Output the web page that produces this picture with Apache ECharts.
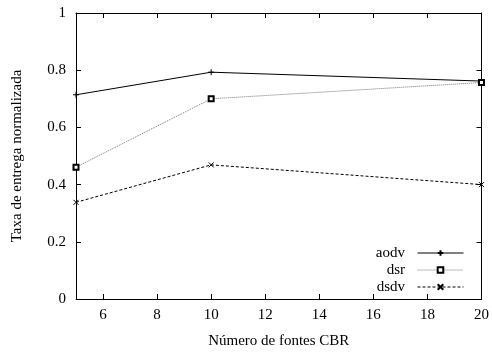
<!DOCTYPE html>
<html><head><meta charset="utf-8">
<script src="https://cdn.jsdelivr.net/npm/echarts@6/dist/echarts.min.js"></script>
<style>html,body{margin:0;padding:0;background:#fff}#c{width:492px;height:354px}</style>
</head><body><div id="c"></div>
<script>
const xValues = [5, 10, 20];
const aodv = [0.714, 0.793, 0.762];
const dsr = [0.461, 0.700, 0.757];
const dsdv = [0.338, 0.469, 0.400];
const xTicks = [6, 8, 10, 12, 14, 16, 18, 20];
const seriesNames = ['aodv', 'dsr', 'dsdv'];

const FONT = 'Liberation Serif';
const plusPath = 'path://M0,5L10,5M5,0L5,10';
const crossPath = 'path://M0,0L10,10M10,0L0,10';

function pairs(vals){ return xValues.map((x,i)=>[x, vals[i]]); }

const xBase = {
  type: 'value', min: 5, max: 20,
  axisLine: {show: true, onZero: false, lineStyle: {color: '#000', width: 1}},
  axisTick: {show: true, inside: true, length: 5, customValues: xTicks, lineStyle: {color: '#000'}},
  splitLine: {show: false}
};
const yBase = {
  type: 'value', min: 0, max: 1, interval: 0.2,
  axisLine: {show: true, onZero: false, lineStyle: {color: '#000', width: 1}},
  axisTick: {show: true, inside: true, length: 5, lineStyle: {color: '#000'}},
  splitLine: {show: false}
};

const chart = echarts.init(document.getElementById('c'), null, {renderer: 'canvas'});
chart.setOption({
  animation: false,
  backgroundColor: '#fff',
  grid: {left: 76, right: 9, top: 13, bottom: 54},
  xAxis: [
    Object.assign({}, xBase, {
      position: 'bottom',
      name: 'Número de fontes CBR', nameLocation: 'middle', nameGap: 35,
      nameTextStyle: {fontFamily: FONT, fontSize: 15, color: '#000'},
      axisLabel: {show: true, customValues: xTicks, fontFamily: FONT, fontSize: 15, color: '#000', margin: 9}
    }),
    Object.assign({}, xBase, {position: 'top', axisLabel: {show: false}})
  ],
  yAxis: [
    Object.assign({}, yBase, {
      position: 'left',
      name: 'Taxa de entrega normalizada', nameLocation: 'middle', nameGap: 51,
      nameTextStyle: {fontFamily: FONT, fontSize: 15, color: '#000'},
      axisLabel: {show: true, fontFamily: FONT, fontSize: 15, color: '#000', margin: 10}
    }),
    Object.assign({}, yBase, {position: 'right', axisLabel: {show: false}})
  ],
  legend: {
    orient: 'vertical', align: 'right', right: 23, bottom: 54.5,
    itemWidth: 46, itemHeight: 7, itemGap: 2,
    formatter: function (n) { return n + '  '; },
    lineStyle: {width: 1},
    textStyle: {fontFamily: FONT, fontSize: 15, color: '#000'},
    data: seriesNames
  },
  series: [
    {name: seriesNames[0], type: 'line', data: pairs(aodv), symbol: plusPath, symbolSize: 6,
     lineStyle: {color: '#000', width: 1, type: 'solid'},
     itemStyle: {color: '#000', borderColor: '#000', borderWidth: 1}},
    {name: seriesNames[1], type: 'line', data: pairs(dsr), symbol: 'emptyRect', symbolSize: 5,
     lineStyle: {color: '#777', width: 1, type: [1, 1]},
     itemStyle: {color: '#000', borderColor: '#000', borderWidth: 1}},
    {name: seriesNames[2], type: 'line', data: pairs(dsdv), symbol: crossPath, symbolSize: 5,
     lineStyle: {color: '#000', width: 1, type: [3, 2]},
     itemStyle: {color: '#000', borderColor: '#000', borderWidth: 1}}
  ]
});
</script></body></html>
